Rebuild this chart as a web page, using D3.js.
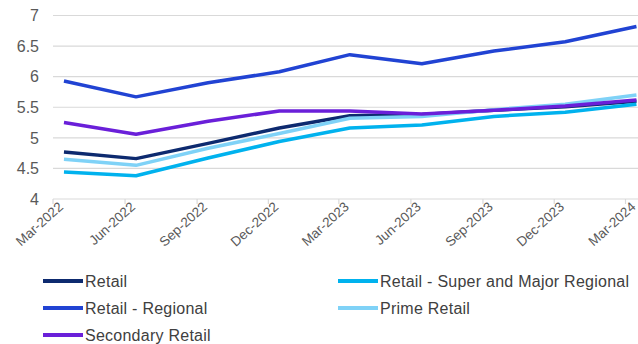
<!DOCTYPE html>
<html>
<head>
<meta charset="utf-8">
<script src="https://cdn.jsdelivr.net/npm/d3@7"></script>
<style>
    body { margin: 0; background: #fff; }
    svg { display: block; font-family: Arial, "Liberation Sans", sans-serif; }
</style>
</head>
<body>
<div id="chart"></div>
<script>
// quarter labels and values
let quarters = ['Mar-2022', 'Jun-2022', 'Sep-2022', 'Dec-2022', 'Mar-2023', 'Jun-2023', 'Sep-2023', 'Dec-2023', 'Mar-2024']
let retail = [4.77, 4.66, 4.91, 5.16, 5.36, 5.38, 5.45, 5.51, 5.60]
let superMajor = [4.44, 4.38, 4.67, 4.94, 5.16, 5.21, 5.35, 5.42, 5.55]
let regional = [5.93, 5.67, 5.90, 6.08, 6.36, 6.21, 6.42, 6.57, 6.82]
let prime = [4.65, 4.55, 4.83, 5.07, 5.32, 5.35, 5.46, 5.55, 5.70]
let secondary = [5.25, 5.06, 5.27, 5.44, 5.44, 5.39, 5.45, 5.52, 5.62]
let yTicks = [4, 4.5, 5, 5.5, 6, 6.5, 7]

// drawing order = legend order (later series on top)
let series = [
    { name: 'Retail', values: retail, color: '#0d2a6f' },
    { name: 'Retail - Super and Major Regional', values: superMajor, color: '#00b2ee' },
    { name: 'Retail - Regional', values: regional, color: '#2143d3' },
    { name: 'Prime Retail', values: prime, color: '#7fd2f7' },
    { name: 'Secondary Retail', values: secondary, color: '#6a1fd9' },
]

const width = 638, height = 344
const parse = d3.timeParse('%b-%Y')
// ticks sit on the 1st of the month, points mid-month
const tickDates = quarters.map(parse)
const pointDates = tickDates.map(d => d3.timeDay.offset(d, 14))

const svg = d3.select('#chart').append('svg')
    .attr('width', width)
    .attr('height', height)

const x = d3.scaleTime()
    .domain(d3.extent(tickDates))
    .range([53, 625.5])

const y = d3.scaleLinear()
    .domain([4, 7])
    .range([199, 15.5])

// gridlines
svg.append('g')
    .selectAll('line')
    .data(yTicks)
    .join('line')
    .attr('x1', 53)
    .attr('x2', width)
    .attr('y1', d => y(d))
    .attr('y2', d => y(d))
    .attr('stroke', '#d9d9d9')
    .attr('stroke-width', 1.2)

// y labels
svg.append('g')
    .selectAll('text')
    .data(yTicks)
    .join('text')
    .attr('x', 39)
    .attr('y', d => y(d))
    .attr('dy', '0.36em')
    .attr('text-anchor', 'end')
    .attr('font-size', 16)
    .attr('fill', '#595959')
    .text(d => d)

// x tick marks
svg.append('g')
    .selectAll('line')
    .data(tickDates)
    .join('line')
    .attr('x1', d => x(d))
    .attr('x2', d => x(d))
    .attr('y1', y(4))
    .attr('y2', y(4) + 5)
    .attr('stroke', '#d9d9d9')
    .attr('stroke-width', 1.2)

// x labels, rotated
svg.append('g')
    .selectAll('text')
    .data(quarters)
    .join('text')
    .attr('transform', (d, i) => `translate(${x(pointDates[i])},${y(4) + 9}) rotate(-42)`)
    .attr('text-anchor', 'end')
    .attr('font-size', 13.5)
    .attr('fill', '#595959')
    .text(d => d)

const line = d3.line()
    .x((d, i) => x(pointDates[i]))
    .y(d => y(d))

svg.append('g')
    .selectAll('path')
    .data(series)
    .join('path')
    .attr('d', d => line(d.values))
    .attr('fill', 'none')
    .attr('stroke', d => d.color)
    .attr('stroke-width', 3.5)
    .attr('stroke-linejoin', 'round')

// legend: two columns, filled row by row
const legendCols = [43, 338]
const legendRows = [281, 308, 335]

const legend = svg.append('g')
    .selectAll('g')
    .data(series)
    .join('g')
    .attr('transform', (d, i) => `translate(${legendCols[i % 2]},${legendRows[Math.floor(i / 2)]})`)

legend.append('line')
    .attr('x1', 0)
    .attr('x2', 40)
    .attr('stroke', d => d.color)
    .attr('stroke-width', 4)

legend.append('text')
    .attr('x', 42)
    .attr('dy', '0.35em')
    .attr('font-size', 16)
    .attr('letter-spacing', 0.25)
    .attr('fill', '#404040')
    .text(d => d.name)
</script>
</body>
</html>
